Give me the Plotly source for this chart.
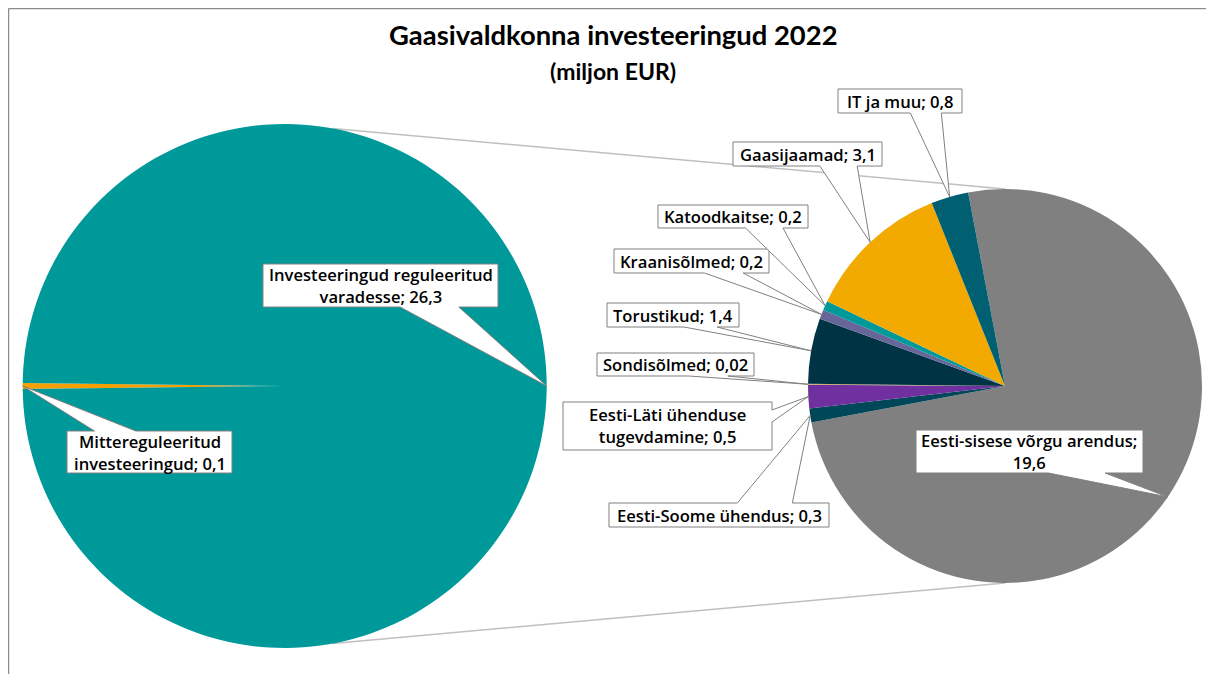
import math
import plotly.graph_objects as go

# the page body adds an 8px margin, so the figure is drawn 8px in from the corner
OFF = 8
W, H = 1214 - OFF, 674 - OFF

# first pie
first_labels = ["Mittereguleeritud investeeringud", "Investeeringud reguleeritud varadesse"]
first_values = [0.1, 26.3]
first_colors = ["#F5A000", "#009999"]

# second pie (breakdown of regulated investments), clockwise order
second_labels = [
    "Eesti-sisese võrgu arendus",
    "Eesti-Soome ühendus",
    "Eesti-Läti ühenduse tugevdamine",
    "Sondisõlmed",
    "Torustikud",
    "Kraanisõlmed",
    "Katoodkaitse",
    "Gaasijaamad",
    "IT ja muu",
]
second_values = [19.6, 0.3, 0.5, 0.02, 1.4, 0.2, 0.2, 3.1, 0.8]
second_colors = ["#808080", "#00475A", "#7030A0", "#C8A86A", "#003344",
                 "#666699", "#009999", "#F2A900", "#005F70"]

TITLE = "Gaasivaldkonna investeeringud 2022"
SUBTITLE = "(miljon EUR)"

# pie geometry in screen pixels
P1 = (284.7, 386.0, 262.0)
P2 = (1005.0, 386.0, 197.0)
SECOND_START = -10.8

# callout boxes: centre x, centre y, width, height, break after
BOXES_1 = [
    (149.5, 452.0, 165, 42, "Mittereguleeritud"),
    (380.5, 285.5, 235, 43, "reguleeritud"),
]
BOXES_2 = [
    (1029.5, 451.5, 227, 43, "arendus;"),
    (719.0, 515.0, 220, 24, None),
    (667.5, 426.0, 209, 48, "ühenduse"),
    (675.5, 364.5, 157, 23, None),
    (673.0, 315.0, 132, 24, None),
    (691.5, 261.0, 155, 24, None),
    (733.0, 216.5, 150, 23, None),
    (807.5, 154.0, 149, 24, None),
    (900.0, 101.0, 124, 24, None),
]

LABEL_FONT = dict(family="Open Sans, sans-serif", size=16.6, color="black", weight=600)


def px(x, y):
    return (x - OFF) / W, 1 - (y - OFF) / H


def domain(cx, cy, r):
    x0, y0 = px(cx - r, cy + r)
    x1, y1 = px(cx + r, cy - r)
    return dict(x=[x0, x1], y=[y0, y1])


def mid_angles(values, start):
    total = sum(values)
    out, a = [], start
    for v in values:
        span = v / total * 360
        out.append(a + span / 2)
        a += span
    return out


def fmt(v):
    return f"{v:g}".replace(".", ",")


def callout_path(cx, cy, w, h, tx, ty):
    # rectangular callout with a wedge pointing at (tx, ty)
    l, t, r, b = cx - w / 2, cy - h / 2, cx + w / 2, cy + h / 2
    dx, dy = tx - cx, ty - cy
    dq = dx * h / w
    if abs(dy) - abs(dq) > 0:
        x1 = l + w * (7 if dx > 0 else 2) / 12
        x2 = l + w * (10 if dx > 0 else 5) / 12
        if dy < 0:
            pts = [(l, t), (x1, t), (tx, ty), (x2, t), (r, t), (r, b), (l, b)]
        else:
            pts = [(l, t), (r, t), (r, b), (x2, b), (tx, ty), (x1, b), (l, b)]
    else:
        y1 = t + h * (7 if dy > 0 else 2) / 12
        y2 = t + h * (10 if dy > 0 else 5) / 12
        if dx < 0:
            pts = [(l, t), (r, t), (r, b), (l, b), (l, y2), (tx, ty), (l, y1)]
        else:
            pts = [(l, t), (r, t), (r, y1), (tx, ty), (r, y2), (r, b), (l, b)]
    coords = []
    for x, y in pts:
        u, v = px(x, y)
        coords.append(f"{u:.5f},{v:.5f}")
    return "M " + " L ".join(coords) + " Z"


first_span = first_values[0] / sum(first_values) * 360
first_start = 270 - first_span / 2

fig = go.Figure()
fig.add_trace(go.Pie(
    labels=first_labels, values=first_values,
    marker=dict(colors=first_colors, line=dict(width=0)),
    domain=domain(*P1), sort=False, direction="clockwise",
    rotation=first_start, textinfo="none", showlegend=False,
))
fig.add_trace(go.Pie(
    labels=second_labels, values=second_values,
    marker=dict(colors=second_colors, line=dict(width=0)),
    domain=domain(*P2), sort=False, direction="clockwise",
    rotation=SECOND_START, textinfo="none", showlegend=False,
))

shapes = []
annotations = []

# series lines between the pies
c1x, c1y, r1 = P1
c2x, c2y, r2 = P2
for sgn in (-1, 1):
    a = math.radians(10.5)
    u0, v0 = px(c1x + r1 * math.sin(a), c1y + sgn * r1 * math.cos(a))
    u1, v1 = px(c2x, c2y + sgn * r2)
    shapes.append(dict(type="line", xref="paper", yref="paper", x0=u0, y0=v0, x1=u1, y1=v1,
                       line=dict(color="#BFBFBF", width=1.5), layer="below"))

# frame (top and left edge)
fx, fy = px(8.5, 8.5)
shapes.append(dict(type="line", xref="paper", yref="paper", x0=fx, y0=fy, x1=1, y1=fy,
                   line=dict(color="#8C8C8C", width=1.5)))
shapes.append(dict(type="line", xref="paper", yref="paper", x0=fx, y0=fy, x1=fx, y1=0,
                   line=dict(color="#8C8C8C", width=1.5)))


def add_callouts(labels, values, start, geom, boxes):
    cx0, cy0, r = geom
    for name, val, ang, box in zip(labels, values, mid_angles(values, start), boxes):
        bx, by, bw, bh, brk = box
        a = math.radians(ang)
        tx = cx0 + r * math.sin(a)
        ty = cy0 - r * math.cos(a)
        shapes.append(dict(type="path", xref="paper", yref="paper",
                           path=callout_path(bx, by, bw, bh, tx, ty),
                           fillcolor="white", line=dict(color="#808080", width=1), layer="above"))
        text = f"{name}; {fmt(val)}"
        if brk:
            text = text.replace(brk + " ", brk + "<br>", 1)
        u, v = px(bx, by)
        annotations.append(dict(x=u, y=v, xref="paper", yref="paper", text=text, showarrow=False,
                                xanchor="center", yanchor="middle", align="center",
                                font=LABEL_FONT))


add_callouts(first_labels, first_values, first_start, P1, BOXES_1)
add_callouts(second_labels, second_values, SECOND_START, P2, BOXES_2)

tx, ty = px(613, 34)
annotations.append(dict(x=tx, y=ty, xref="paper", yref="paper", showarrow=False,
                        text=f"<b>{TITLE}</b>", xanchor="center", yanchor="middle",
                        font=dict(family="Lato, sans-serif", size=27.4, color="black")))
sx, sy = px(613, 71)
annotations.append(dict(x=sx, y=sy, xref="paper", yref="paper", showarrow=False,
                        text=f"<b>{SUBTITLE}</b>", xanchor="center", yanchor="middle",
                        font=dict(family="Lato, sans-serif", size=23, color="black")))

fig.update_layout(
    width=W, height=H,
    margin=dict(l=0, r=0, t=0, b=0),
    paper_bgcolor="white", plot_bgcolor="white",
    shapes=shapes, annotations=annotations,
)

fig.write_html("out.html")
